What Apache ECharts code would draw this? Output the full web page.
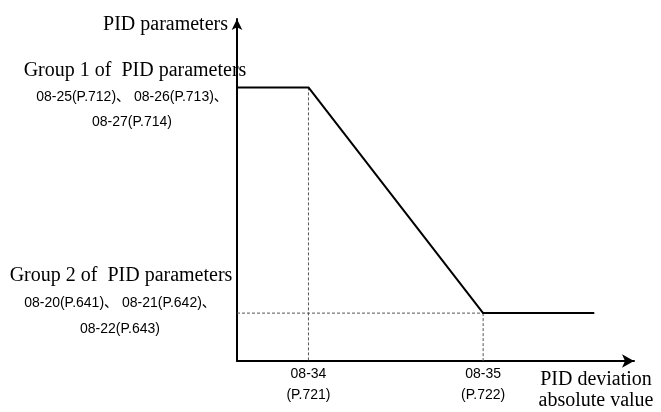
<!DOCTYPE html>
<html>
<head>
<meta charset="utf-8">
<script src="https://cdn.jsdelivr.net/npm/echarts@6/dist/echarts.min.js"></script>
<style>
  html, body { margin: 0; padding: 0; background: #fff; }
  #main { width: 661px; height: 412px; }
</style>
</head>
<body>
<div id="main"></div>
<script>
// curve: flat at group 1, falls between 08-34 and 08-35, flat at group 2
const curveX = [0, 18, 62, 90]
const curveY = [80, 80, 14, 14]
const xTickValues = [18, 62]
const xTickLabels = ['08-34\n(P.721)', '08-35\n(P.722)']
const groupTitles = ['Group 1 of  PID parameters', 'Group 2 of  PID parameters']
const groupParams = ['08-25(P.712)、 08-26(P.713)、\n08-27(P.714)', '08-20(P.641)、 08-21(P.642)、\n08-22(P.643)']

const serif = '"Liberation Serif", "Times New Roman", serif'
const sans = '"Liberation Sans", Arial, "Noto Sans CJK SC", sans-serif'

const chart = echarts.init(document.getElementById('main'))

const curve = curveX.map((x, i) => [x, curveY[i]])
// dashed guide lines down / across from the two corners
const guides = [
  [[curveX[1], curveY[1]], [curveX[1], 0]],
  [[0, curveY[2]], [curveX[2], curveY[2]]],
  [[curveX[2], curveY[2]], [curveX[2], 0]]
]

const dashStyle = { color: '#555', width: 1, type: [3, 2] }

const option = {
  animation: false,
  grid: { left: 237, right: 27, top: 19, bottom: 51 },
  xAxis: {
    type: 'value',
    min: 0,
    max: 100,
    splitLine: { show: false },
    axisTick: { show: false },
    axisLine: { lineStyle: { color: '#000', width: 2 }, symbol: ['none', 'arrow'], symbolSize: [10, 12] },
    axisLabel: {
      customValues: xTickValues,
      formatter: (v) => xTickLabels[xTickValues.indexOf(v)],
      color: '#000',
      fontFamily: sans,
      fontSize: 14,
      lineHeight: 21,
      margin: 3
    },
    name: 'PID deviation\nabsolute value',
    nameLocation: 'end',
    nameGap: -38,
    nameTextStyle: {
      color: '#000',
      fontFamily: serif,
      fontSize: 20,
      lineHeight: 21,
      align: 'center',
      verticalAlign: 'top',
      padding: [8, 0, 0, 0]
    }
  },
  yAxis: {
    type: 'value',
    min: 0,
    max: 100,
    splitLine: { show: false },
    axisTick: { show: false },
    axisLabel: { show: false },
    axisLine: { lineStyle: { color: '#000', width: 2 }, symbol: ['none', 'arrow'], symbolSize: [8, 11] },
    name: 'PID parameters',
    nameLocation: 'end',
    nameGap: -6,
    nameTextStyle: {
      color: '#000',
      fontFamily: serif,
      fontSize: 20,
      align: 'right',
      verticalAlign: 'middle',
      padding: [0, 9, 0, 0]
    }
  },
  series: [
    {
      type: 'line',
      data: curve,
      symbol: 'none',
      lineStyle: { color: '#000', width: 2 },
      z: 3
    },
    ...guides.map((g) => ({
      type: 'line',
      data: g,
      symbol: 'none',
      lineStyle: dashStyle,
      z: 2
    }))
  ],
  graphic: [
    { type: 'text', x: 135, y: 71, style: { text: groupTitles[0], font: '20px ' + serif, fill: '#000', align: 'center', verticalAlign: 'middle' } },
    { type: 'text', x: 132, y: 110, style: { text: groupParams[0], font: '14px ' + sans, lineHeight: 25, fill: '#000', align: 'center', verticalAlign: 'middle' } },
    { type: 'text', x: 121, y: 276, style: { text: groupTitles[1], font: '20px ' + serif, fill: '#000', align: 'center', verticalAlign: 'middle' } },
    { type: 'text', x: 120, y: 316, style: { text: groupParams[1], font: '14px ' + sans, lineHeight: 26, fill: '#000', align: 'center', verticalAlign: 'middle' } }
  ]
}

chart.setOption(option)
</script>
</body>
</html>
